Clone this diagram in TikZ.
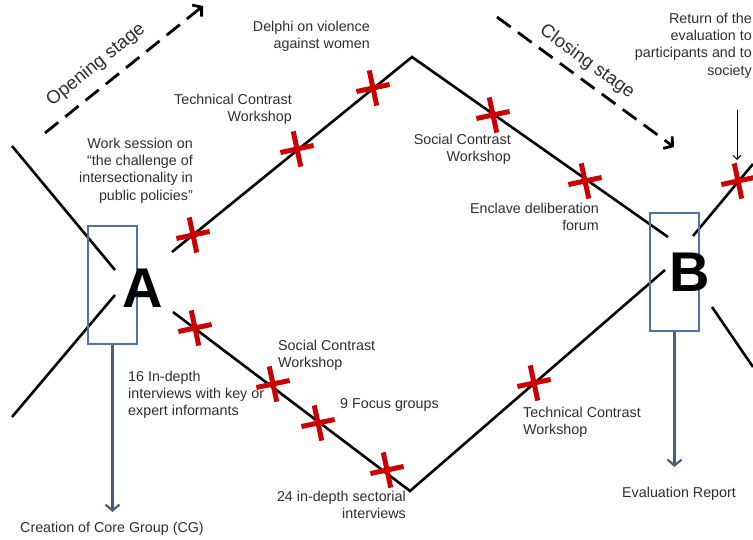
\documentclass[tikz,border=0pt]{standalone}
\usepackage{fontspec}
\setmainfont{Liberation Sans}
\usetikzlibrary{arrows.meta}
\definecolor{txtgray}{HTML}{2E2E2E}
\definecolor{xred}{HTML}{CC0000}
\definecolor{boxblue}{HTML}{4F72A8}
\definecolor{arrblue}{HTML}{4C5D7C}
\begin{document}
\begin{tikzpicture}[x=1pt,y=-1pt,
  mainline/.style={line width=2.6pt, black},
  crossline/.style={line width=5pt, xred},
  redx/.pic={\draw[crossline] (-17,0)--(17,0) (0,-18)--(0,18);},
  stagearrow/.style={line width=2.8pt, dash pattern=on 17pt off 9pt, -{Straight Barb[length=6pt,width=15pt]}},
  downarrow/.style={arrblue, line width=2.2pt, -{Straight Barb[length=6pt,width=14pt]}},
  thinarrow/.style={black, line width=1pt, -{Straight Barb[length=4pt,width=8pt]}},
  boxnode/.style={draw=boxblue, line width=1.1pt, minimum width=49pt, minimum height=118pt, inner sep=0pt},
  letter/.style={font=\fontsize{56}{56}\selectfont\bfseries, inner sep=0pt},
  lbl/.style={font=\fontsize{14.3}{17.2}\selectfont, text=txtgray, inner sep=0pt},
  stagefont/.style={font=\fontsize{18.5}{21}\selectfont, text=txtgray, inner sep=0pt}
]
\useasboundingbox (0,0) rectangle (753,539);

% coordinates of the main lines
\coordinate (L1a) at (12,146);  \coordinate (L1b) at (115,270);
\coordinate (L2a) at (12,417);  \coordinate (L2b) at (115,295);
\coordinate (U1) at (172,252);  \coordinate (P) at (412,57);   \coordinate (U2) at (668,237);
\coordinate (R1) at (693,236);  \coordinate (R1e) at (753,164);
\coordinate (D1) at (173,312);  \coordinate (V) at (410,491);  \coordinate (D2) at (665,270);
\coordinate (R2) at (712,307);  \coordinate (R2e) at (753,367);

\draw[mainline] (L1a) -- (L1b);
\draw[mainline] (L2a) -- (L2b);
\draw[mainline] (U1) -- (P) -- (U2);
\draw[mainline] (R1) -- (R1e);
\draw[mainline] (D1) -- (V) -- (D2);
\draw[mainline] (R2) -- (R2e);

% boxes and letters
\node[boxnode] (boxA) at (112.5,285) {};
\node[boxnode] (boxB) at (674.5,272) {};
\node[letter] (A) at (142.5,288) {A};
\node[letter] (B) at (690,272) {B};

% crosses
\pic[rotate=12] at (193,235) {redx};
\pic[rotate=12] at (297,149) {redx};
\pic[rotate=12] at (373,88) {redx};
\pic[rotate=12] at (493,115) {redx};
\pic[rotate=12] at (585,181) {redx};
\pic[rotate=12] at (738,181) {redx};
\pic[rotate=12] at (195,328) {redx};
\pic[rotate=12] at (273,384) {redx};
\pic[rotate=12] at (318,423) {redx};
\pic[rotate=12] at (387,470) {redx};
\pic[rotate=12] at (534,383) {redx};

% stage arrows
\coordinate (os1) at (45,133); \coordinate (os2) at (203,6);
\coordinate (cs1) at (497,17); \coordinate (cs2) at (674,147);
\draw[stagearrow] (os1) -- (os2);
\draw[stagearrow] (cs1) -- (cs2);
\node[stagefont, rotate=39] (open) at (96,65) {Opening stage};
\node[stagefont, rotate=-36] (close) at (587,62) {Closing stage};

% labels
\node[lbl, align=right, anchor=north east] (delphi) at (370,21) {Delphi on violence\\against women};
\node[lbl, align=right, anchor=north east] (tcw1) at (292,94) {Technical Contrast\\Workshop};
\node[lbl, align=right, anchor=north east] (work) at (193,138) {Work session on\\“the challenge of\\intersectionality in\\public policies”};
\node[lbl, align=right, anchor=north east] (scw1) at (511,134) {Social Contrast\\Workshop};
\node[lbl, align=right, anchor=north east] (enclave) at (599,203) {Enclave deliberation\\forum};
\node[lbl, align=right, anchor=north east] (return) at (752,13) {Return of the\\evaluation to\\participants and to\\society};
\node[lbl, align=left, anchor=north west] (scw2) at (278,340) {Social Contrast\\Workshop};
\node[lbl, align=left, anchor=north west] (indepth) at (128,371) {16 In-depth\\interviews with key or\\expert informants};
\node[lbl, anchor=north west] (focus) at (340,398) {9 Focus groups};
\node[lbl, align=right, anchor=north east] (sect) at (406,491) {24 in-depth sectorial\\interviews};
\node[lbl, align=left, anchor=north west] (tcw2) at (523,407) {Technical Contrast\\Workshop};
\node[lbl, anchor=north west] (evalrep) at (622,487) {Evaluation Report};
\node[lbl, anchor=north west] (core) at (20,522) {Creation of Core Group (CG)};

% arrows
\coordinate (retA) at (737,110); \coordinate (retB) at (737,160);
\draw[thinarrow] (retA) -- (retB);
\coordinate (coreTip) at (112.5,512);
\coordinate (evalTip) at (674.5,467);
\draw[downarrow] (boxA.south) -- (coreTip);
\draw[downarrow] (boxB.south) -- (evalTip);
\end{tikzpicture}
\end{document}
